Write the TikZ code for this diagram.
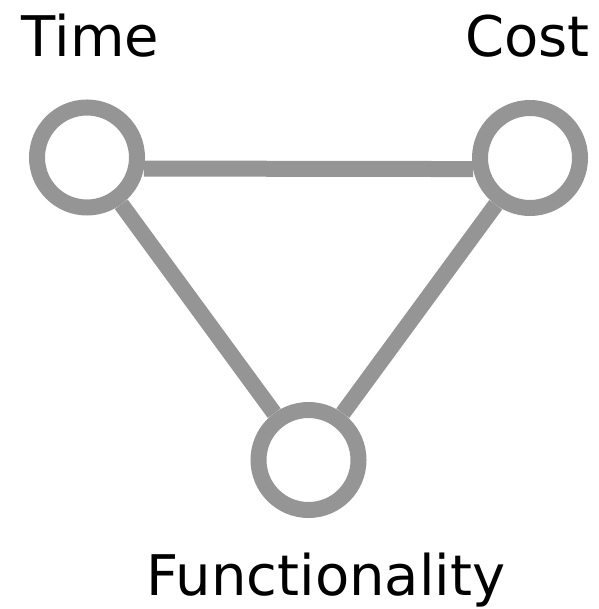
\documentclass[tikz,border=0pt]{standalone}
\usepackage{fontspec}
\setmainfont{DejaVu Sans}
\definecolor{ringgray}{HTML}{959595}
\begin{document}
\begin{tikzpicture}[x=1pt,y=-1pt,
  ring/.style={circle,draw=ringgray,line width=16pt,minimum size=100pt,inner sep=0pt},
  link/.style={draw=ringgray,line width=16pt},
  lbl/.style={anchor=base,inner sep=0pt,font=\fontsize{56}{60}\selectfont}]
\useasboundingbox (0,0) rectangle (598,609);
\node[ring] (time) at (87,157.5) {};
\node[ring] (cost) at (530,158) {};
\node[ring] (func) at (308.5,460) {};
\draw[link] (time.-11) -- (cost.191);
\draw[link] (time) -- (func);
\draw[link] (cost) -- (func);
\node[lbl] (tl) at (90.5,57) {Time};
\node[lbl] (cl) at (527.5,57) {Cost};
\node[lbl] (fl) at (326,595) {Functionality};
\end{tikzpicture}
\end{document}
